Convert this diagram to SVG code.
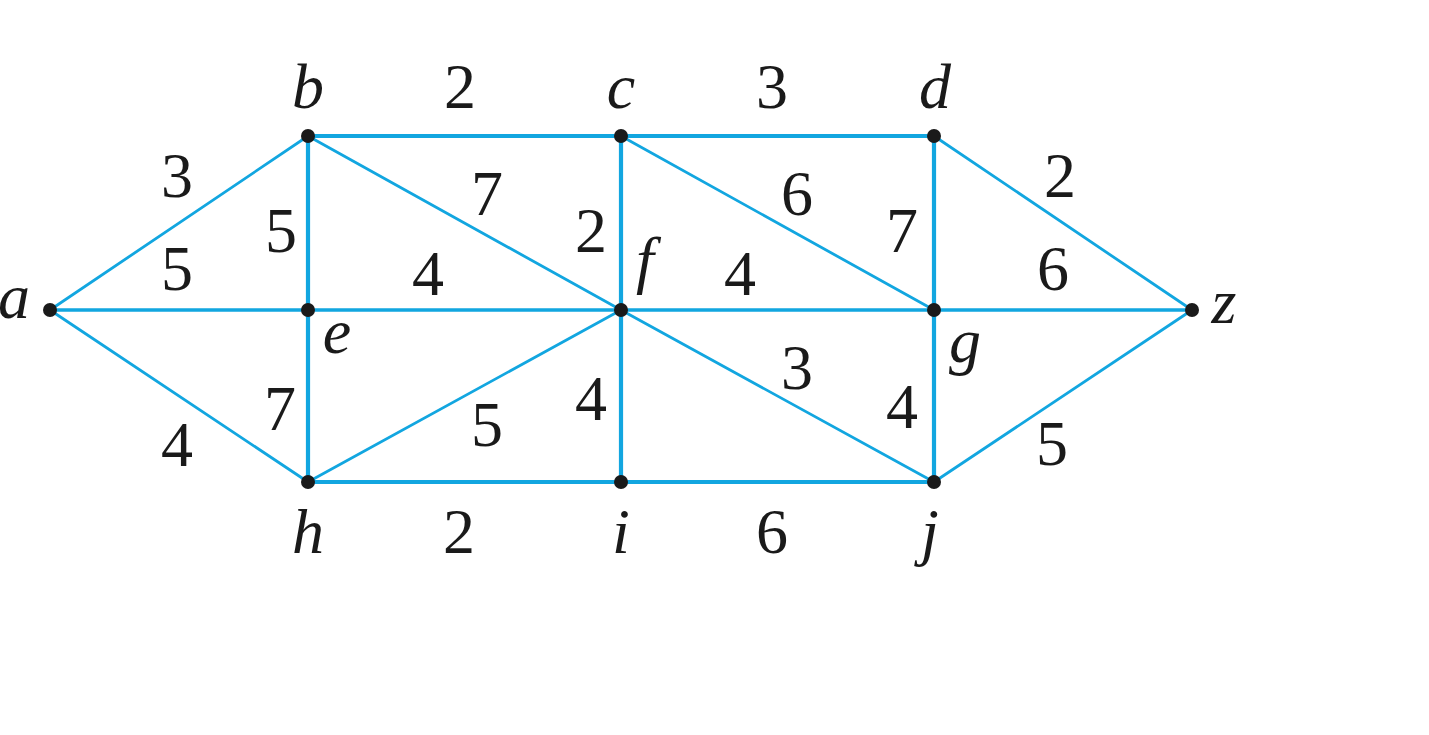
<svg xmlns="http://www.w3.org/2000/svg" width="1429" height="735" viewBox="0 0 1429 735">
<style>
.e{stroke:#12a6e0;fill:none;stroke-linecap:round}
.t{stroke-width:4.2}
.m{stroke-width:3.4}
.d{stroke-width:2.8}
.n{fill:#1a1a1a}
.l{font-family:"Liberation Serif",serif;font-style:italic;font-size:64px;fill:#1a1a1a;text-anchor:middle}
.w{font-family:"Liberation Serif",serif;font-size:64px;fill:#1a1a1a;text-anchor:middle}
</style>
<rect width="1429" height="735" fill="#ffffff"/>
<g id="connectors">
<line class="e d" x1="50" y1="310" x2="308" y2="136"/>
<line class="e m" x1="50" y1="310" x2="308" y2="310"/>
<line class="e d" x1="50" y1="310" x2="308" y2="482"/>
<line class="e t" x1="308" y1="136" x2="621" y2="136"/>
<line class="e t" x1="621" y1="136" x2="934" y2="136"/>
<line class="e d" x1="934" y1="136" x2="1192" y2="310"/>
<line class="e t" x1="308" y1="136" x2="308" y2="310"/>
<line class="e d" x1="308" y1="136" x2="621" y2="310"/>
<line class="e t" x1="621" y1="136" x2="621" y2="310"/>
<line class="e d" x1="621" y1="136" x2="934" y2="310"/>
<line class="e t" x1="934" y1="136" x2="934" y2="310"/>
<line class="e m" x1="308" y1="310" x2="621" y2="310"/>
<line class="e m" x1="621" y1="310" x2="934" y2="310"/>
<line class="e m" x1="934" y1="310" x2="1192" y2="310"/>
<line class="e t" x1="308" y1="310" x2="308" y2="482"/>
<line class="e d" x1="308" y1="482" x2="621" y2="310"/>
<line class="e t" x1="621" y1="310" x2="621" y2="482"/>
<line class="e d" x1="621" y1="310" x2="934" y2="482"/>
<line class="e t" x1="934" y1="310" x2="934" y2="482"/>
<line class="e d" x1="934" y1="482" x2="1192" y2="310"/>
<line class="e t" x1="308" y1="482" x2="621" y2="482"/>
<line class="e t" x1="621" y1="482" x2="934" y2="482"/>
</g>
<g id="edge-labels">
<text class="w" x="177" y="197">3</text>
<text class="w" x="177" y="290">5</text>
<text class="w" x="177" y="466">4</text>
<text class="w" x="460" y="108">2</text>
<text class="w" x="772" y="108">3</text>
<text class="w" x="1060" y="197">2</text>
<text class="w" x="281" y="252">5</text>
<text class="w" x="487" y="215">7</text>
<text class="w" x="591" y="252">2</text>
<text class="w" x="797" y="215">6</text>
<text class="w" x="902" y="252">7</text>
<text class="w" x="428" y="295">4</text>
<text class="w" x="740" y="295">4</text>
<text class="w" x="1053" y="290">6</text>
<text class="w" x="280" y="430">7</text>
<text class="w" x="487" y="446">5</text>
<text class="w" x="591" y="420">4</text>
<text class="w" x="797" y="389">3</text>
<text class="w" x="902" y="428">4</text>
<text class="w" x="1052" y="465">5</text>
<text class="w" x="459" y="553">2</text>
<text class="w" x="772" y="553">6</text>
</g>
<g id="node-a"><circle class="n" cx="50" cy="310" r="7"/><text class="l" x="14" y="318">a</text></g>
<g id="node-b"><circle class="n" cx="308" cy="136" r="7"/><text class="l" x="308" y="108">b</text></g>
<g id="node-c"><circle class="n" cx="621" cy="136" r="7"/><text class="l" x="621" y="108">c</text></g>
<g id="node-d"><circle class="n" cx="934" cy="136" r="7"/><text class="l" x="935" y="108">d</text></g>
<g id="node-e"><circle class="n" cx="308" cy="310" r="7"/><text class="l" x="337" y="353">e</text></g>
<g id="node-f"><circle class="n" cx="621" cy="310" r="7"/><text class="l" x="645" y="281">f</text></g>
<g id="node-g"><circle class="n" cx="934" cy="310" r="7"/><text class="l" x="965" y="362">g</text></g>
<g id="node-z"><circle class="n" cx="1192" cy="310" r="7"/><text class="l" x="1224" y="323">z</text></g>
<g id="node-h"><circle class="n" cx="308" cy="482" r="7"/><text class="l" x="308" y="553">h</text></g>
<g id="node-i"><circle class="n" cx="621" cy="482" r="7"/><text class="l" x="621" y="553">i</text></g>
<g id="node-j"><circle class="n" cx="934" cy="482" r="7"/><text class="l" x="930" y="553">j</text></g>
</svg>
